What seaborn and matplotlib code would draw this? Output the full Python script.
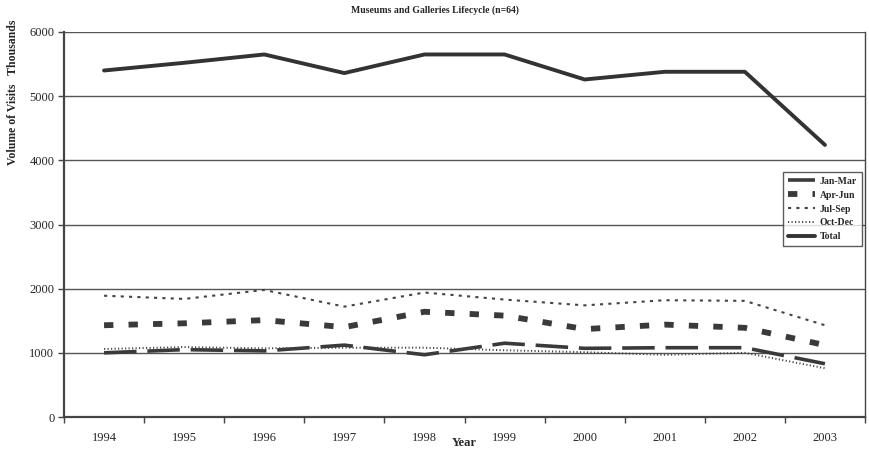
import numpy as np
import pandas as pd
import matplotlib
matplotlib.use("Agg")
import matplotlib.pyplot as plt
import seaborn as sns

years = ["1994", "1995", "1996", "1997", "1998", "1999", "2000", "2001", "2002", "2003"]
jan_mar = [1000, 1050, 1030, 1120, 970, 1150, 1070, 1080, 1080, 830]
apr_jun = [1430, 1460, 1510, 1400, 1640, 1580, 1370, 1440, 1390, 1120]
jul_sep = [1890, 1840, 1980, 1720, 1940, 1830, 1740, 1820, 1810, 1430]
oct_dec = [1060, 1090, 1070, 1080, 1080, 1040, 1010, 970, 1000, 760]
total = [5400, 5520, 5650, 5360, 5650, 5650, 5260, 5380, 5380, 4240]

series_names = ["Jan-Mar", "Apr-Jun", "Jul-Sep", "Oct-Dec", "Total"]
series_values = [jan_mar, apr_jun, jul_sep, oct_dec, total]

rows = []
for name, vals in zip(series_names, series_values):
    for i, v in enumerate(vals):
        rows.append({"pos": i, "Year": years[i], "value": v, "series": name})
df = pd.DataFrame(rows)

sns.set_theme(style="white")
plt.rcParams["font.family"] = ["Liberation Serif", "DejaVu Serif"]

fig = plt.figure(figsize=(8.70, 4.51), dpi=100)
ax = fig.add_axes([64 / 870, 1 - 417 / 451, (865 - 64) / 870, (417 - 32) / 451])

styles = {
    "Jan-Mar": dict(dashes=(9, 3), lw=2.6),
    "Apr-Jun": dict(dashes=(1.6, 2.6), lw=4.2),
    "Jul-Sep": dict(dashes=(1.5, 2.5), lw=1.5),
    "Oct-Dec": dict(dashes=(0.6, 1.2), lw=1.4),
    "Total": dict(dashes=(), lw=2.8),
}
colors = {"Jan-Mar": "#3a3a3a", "Apr-Jun": "#3a3a3a", "Jul-Sep": "#444444",
          "Oct-Dec": "#444444", "Total": "#333333"}

sns.lineplot(
    data=df, x="pos", y="value", hue="series", style="series",
    palette=colors, dashes={k: v["dashes"] for k, v in styles.items()},
    size="series", sizes={k: v["lw"] for k, v in styles.items()},
    hue_order=series_names, style_order=series_names, size_order=series_names,
    ax=ax, legend=True, zorder=3,
)

ax.set_xlim(-0.5, 9.5)
ax.set_ylim(0, 6000)
ax.set_yticks(np.arange(0, 6001, 1000))
ax.yaxis.grid(True, color="#555555", lw=1.0)
ax.set_axisbelow(True)

ax.set_xticks(np.arange(-0.5, 10, 1))
ax.set_xticklabels([])
ax.set_xticks(np.arange(10), minor=True)
ax.set_xticklabels(years, minor=True)
ax.tick_params(axis="x", which="major", direction="out", length=4, width=1, color="#444444", bottom=True)
ax.tick_params(axis="x", which="minor", length=0, pad=11, labelsize=9)
ax.tick_params(axis="y", direction="out", length=4, width=1, color="#444444", left=True, labelsize=9, pad=3)

for s in ax.spines.values():
    s.set_color("#444444")
    s.set_linewidth(1.0)
ax.spines["left"].set_linewidth(1.6)
ax.spines["bottom"].set_linewidth(1.6)
ax.spines["top"].set_visible(False)

ax.set_xlabel("Year", fontsize=9, fontweight="bold")
ax.xaxis.set_label_coords(0.5, -(443 - 417) / 385, transform=ax.transAxes)
ax.xaxis.label.set_va("center")
ax.set_ylabel("Volume of Visits   Thousands", fontsize=8.5, fontweight="bold")
ax.yaxis.set_label_coords(-(64 - 13) / 801, (417 - 92) / 385, transform=ax.transAxes)
ax.yaxis.label.set_va("center")
fig.text(0.5, 1 - 10 / 451, "Museums and Galleries Lifecycle (n=64)", ha="center", va="center",
         fontsize=7, fontweight="bold")

leg = ax.legend(loc="upper left", bbox_to_anchor=((783 - 64) / 801, (417 - 172) / 385),
                frameon=True, fancybox=False, fontsize=7, handlelength=2.8,
                handletextpad=0.5, borderpad=0.5, labelspacing=0.5, borderaxespad=0)
leg.get_frame().set_edgecolor("#333333")
leg.get_frame().set_linewidth(1.0)
for t in leg.get_texts():
    t.set_fontweight("bold")

fig.savefig("out.png", dpi=100)
